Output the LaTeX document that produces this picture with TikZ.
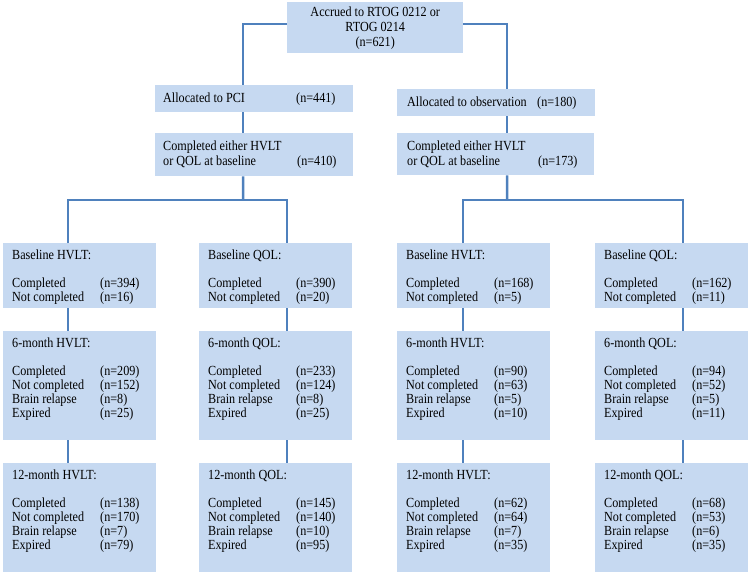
\documentclass[tikz,border=0pt]{standalone}
\usepackage{fontspec}
\setmainfont{Liberation Serif}[FakeStretch=0.875]
\definecolor{boxfill}{HTML}{C6D9F1}
\definecolor{linkc}{HTML}{4F81BD}
\newcommand{\nrow}[2]{\makebox[88pt][l]{#1}#2}
\newcommand{\twobox}[3]{\parbox[c][65pt][t]{135pt}{\rule{0pt}{16pt}#1\\[14pt]\nrow{Completed}{(n=#2)}\\\nrow{Not completed}{(n=#3)}}}
\newcommand{\fourbox}[5]{\parbox[c][109pt][t]{135pt}{\rule{0pt}{16pt}#1\\[14pt]\nrow{Completed}{(n=#2)}\\\nrow{Not completed}{(n=#3)}\\\nrow{Brain relapse}{(n=#4)}\\\nrow{Expired}{(n=#5)}}}
\begin{document}
\begin{tikzpicture}[x=1pt,y=-1pt,
  box/.style={fill=boxfill, draw=none, inner ysep=0pt, inner xsep=8pt, anchor=north west,
    font=\fontsize{13.9}{14}\selectfont},
  colbox/.style={box, minimum width=153pt},
  link/.style={draw=linkc, line width=2.5pt}]
\useasboundingbox (0,0) rectangle (750,574);
% top
\node[box, minimum width=176pt, minimum height=51pt, align=center,
  font=\fontsize{13.9}{15}\selectfont] (top) at (287,2)
  {Accrued to RTOG 0212 or\\RTOG 0214\\(n=621)};
% arms
\node[box, minimum width=198pt, minimum height=27pt] (pci) at (155,85)
  {\parbox{182pt}{\makebox[133pt][l]{Allocated to PCI}(n=441)}};
\node[box, inner xsep=10pt, minimum width=198pt, minimum height=27pt] (obs) at (397,89)
  {\parbox{178pt}{\makebox[130pt][l]{Allocated to observation}(n=180)}};
\node[box, minimum width=198pt, minimum height=43pt, font=\fontsize{13.9}{15}\selectfont] (pcic) at (155,133)
  {\parbox{182pt}{Completed either HVLT\\\makebox[134pt][l]{or QOL at baseline}(n=410)}};
\node[box, inner xsep=10pt, minimum width=197pt, minimum height=42pt, font=\fontsize{13.9}{15}\selectfont] (obsc) at (397,133)
  {\parbox{177pt}{Completed either HVLT\\\makebox[131pt][l]{or QOL at baseline}(n=173)}};
% baseline row
\node[colbox] (b1) at (3,243) {\twobox{Baseline HVLT:}{394}{16}};
\node[colbox, inner xsep=9pt] (b2) at (199,243) {\twobox{Baseline QOL:}{390}{20}};
\node[colbox, inner xsep=9pt] (b3) at (397,243) {\twobox{Baseline HVLT:}{168}{5}};
\node[colbox, inner xsep=9pt] (b4) at (595,243) {\twobox{Baseline QOL:}{162}{11}};
% 6-month row
\node[colbox] (s1) at (3,331) {\fourbox{6-month HVLT:}{209}{152}{8}{25}};
\node[colbox, inner xsep=9pt] (s2) at (199,331) {\fourbox{6-month QOL:}{233}{124}{8}{25}};
\node[colbox, inner xsep=9pt] (s3) at (397,331) {\fourbox{6-month HVLT:}{90}{63}{5}{10}};
\node[colbox, inner xsep=9pt] (s4) at (595,331) {\fourbox{6-month QOL:}{94}{52}{5}{11}};
% 12-month row
\node[colbox] (t1) at (3,463) {\fourbox{12-month HVLT:}{138}{170}{7}{79}};
\node[colbox, inner xsep=9pt] (t2) at (199,463) {\fourbox{12-month QOL:}{145}{140}{10}{95}};
\node[colbox, inner xsep=9pt] (t3) at (397,463) {\fourbox{12-month HVLT:}{62}{64}{7}{35}};
\node[colbox, inner xsep=9pt] (t4) at (595,463) {\fourbox{12-month QOL:}{68}{53}{6}{35}};
% connectors
\coordinate (jl) at (243,200);
\coordinate (jr) at (507,200);
\draw[link] ([yshift=3.5pt]top.west) -| ([xshift=-11pt]pci.north);
\draw[link] ([yshift=3.5pt]top.east) -| ([xshift=11pt]obs.north);
\draw[link] ([xshift=-11pt]pci.south) -- ([xshift=-11pt]pcic.north);
\draw[link] ([xshift=11pt]obs.south) -- ([xshift=11.5pt]obsc.north);
\draw[link] ([xshift=-11pt]pcic.south) -- (jl);
\draw[link] ([xshift=11.5pt]obsc.south) -- (jr);
\draw[link] ([xshift=-11.5pt]b1.north) |- (jl) -| ([xshift=11.5pt]b2.north);
\draw[link] ([xshift=-10.5pt]b3.north) |- (jr) -| ([xshift=11.5pt]b4.north);
\foreach \a/\b/\s in {b1/s1/-11.5, s1/t1/-11.5, b2/s2/11.5, s2/t2/11.5,
                       b3/s3/-10.5, s3/t3/-10.5, b4/s4/11.5, s4/t4/11.5}
  \draw[link] ([xshift=\s pt]\a.south) -- ([xshift=\s pt]\b.north);
\end{tikzpicture}
\end{document}
